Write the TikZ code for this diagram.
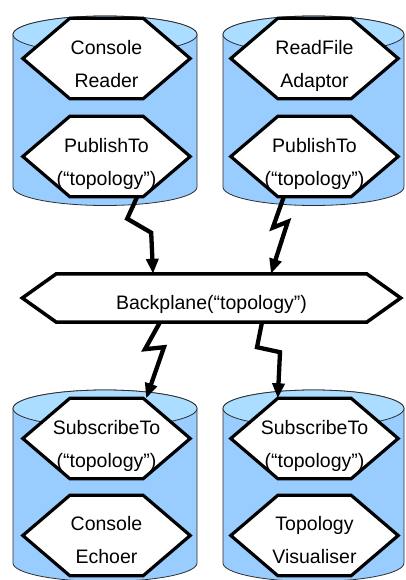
\documentclass[tikz,border=0pt]{standalone}
\usepackage{fontspec}
\setmainfont{Liberation Sans}
\usetikzlibrary{calc,arrows.meta}

\definecolor{tankside}{HTML}{99CCFF}
\definecolor{tanktop}{HTML}{AADDFF}
\definecolor{tankline}{HTML}{2E2E2E}

\tikzset{
  hexa/.style={rectangle, inner sep=0pt, minimum width=73pt, minimum height=80pt},
  hexline/.style={draw=black, line width=3.2pt, fill=white, line join=miter},
  lbl/.style={align=center, inner sep=0pt, font=\fontsize{19.5}{33}\selectfont, text=black},
  bolt/.style={line width=4.3pt, line join=miter, miter limit=12, -{Triangle[length=15pt,width=12pt]}},
  tankstyle/.style={draw=tankline, line width=0.8pt}
}

% cylinder: centre x, top-ellipse y, bottom-ellipse y, x radius
\newcommand\tank[4]{%
  \filldraw[tankstyle, fill=tankside]
    (#1-#4,#2) -- (#1-#4,#3)
    arc[start angle=180, end angle=0, x radius=#4, y radius=18.5]
    -- (#1+#4,#2)
    arc[start angle=0, end angle=-180, x radius=#4, y radius=18.5] -- cycle;
  \filldraw[tankstyle, fill=tanktop] (#1,#2) ellipse[x radius=#4, y radius=18.5];
}

% elongated hexagon around the flat part given by a node
\newcommand\hexframe[2]{%
  \draw[hexline] (#1.north west) -- (#1.north east) -- ($(#1.east)+(#2,0)$)
    -- (#1.south east) -- (#1.south west) -- ($(#1.west)-(#2,0)$) -- cycle;
}

\begin{document}
\begin{tikzpicture}[x=1pt, y=-1pt]
\useasboundingbox (0,0) rectangle (405,580);

% component containers
\tank{105}{34.5}{187}{92}
\tank{313.5}{34.5}{187}{90.5}
\tank{105}{408.5}{563}{92}
\tank{313.5}{408.5}{563}{90.5}

% upper left component
\node[hexa] (reader) at (106.5,58.5) {};
\hexframe{reader}{47}
\node[lbl] (readerT) at ($(reader)+(0,6)$) {\strut Console\\\strut Reader};
\node[hexa] (pubL) at (106.5,156.5) {};
\hexframe{pubL}{47}
\node[lbl] (pubLT) at ($(pubL)+(0,6)$) {\strut PublishTo\\\strut(“topology”)};

% upper right component
\node[hexa] (adaptor) at (314.5,58.5) {};
\hexframe{adaptor}{47}
\node[lbl] (adaptorT) at ($(adaptor)+(0,6)$) {\strut ReadFile\\\strut Adaptor};
\node[hexa] (pubR) at (314.5,156.5) {};
\hexframe{pubR}{47}
\node[lbl] (pubRT) at ($(pubR)+(0,6)$) {\strut PublishTo\\\strut(“topology”)};

% backplane
\node[rectangle, inner sep=0pt, minimum width=310pt, minimum height=48pt] (bp) at (211.5,298) {};
\draw[hexline, line width=3.5pt] (bp.north west) -- (bp.north east) -- ($(bp.east)+(34,0)$)
  -- (bp.south east) -- (bp.south west) -- ($(bp.west)-(34,0)$) -- cycle;
\node[lbl] (bpT) at ($(bp)+(0,4.5)$) {\strut Backplane(“topology”)};

% lower left component
\node[hexa] (subL) at (106.5,438.5) {};
\hexframe{subL}{47}
\node[lbl] (subLT) at ($(subL)+(0,6)$) {\strut SubscribeTo\\\strut(“topology”)};
\node[hexa] (echo) at (106.5,535.5) {};
\hexframe{echo}{47}
\node[lbl] (echoT) at ($(echo)+(0,5)$) {\strut Console\\\strut Echoer};

% lower right component
\node[hexa] (subR) at (314.5,438.5) {};
\hexframe{subR}{47}
\node[lbl] (subRT) at ($(subR)+(0,6)$) {\strut SubscribeTo\\\strut(“topology”)};
\node[hexa] (visual) at (314.5,535.5) {};
\hexframe{visual}{47}
\node[lbl] (visualT) at ($(visual)+(0,5)$) {\strut Topology\\\strut Visualiser};

% lightning links
\draw[bolt] ([xshift=-6pt]pubL.south east) -- ++(-10,22) -- ++(24,14) -- ($(bp.north)+(-58.5,0)$);
\draw[bolt] ([xshift=6pt]pubR.south west) -- ++(-11,31) -- ++(15,-6) -- ($(bp.north)+(59.5,0)$);
\draw[bolt] ($(bp.south)+(-51.5,0)$) -- ++(-15,27) -- ++(19,-2) -- ([xshift=3pt]subL.north east);
\draw[bolt] ($(bp.south)+(50.5,0)$) -- ++(-5,25) -- ++(23,5) -- (subR.north west);
\end{tikzpicture}
\end{document}
